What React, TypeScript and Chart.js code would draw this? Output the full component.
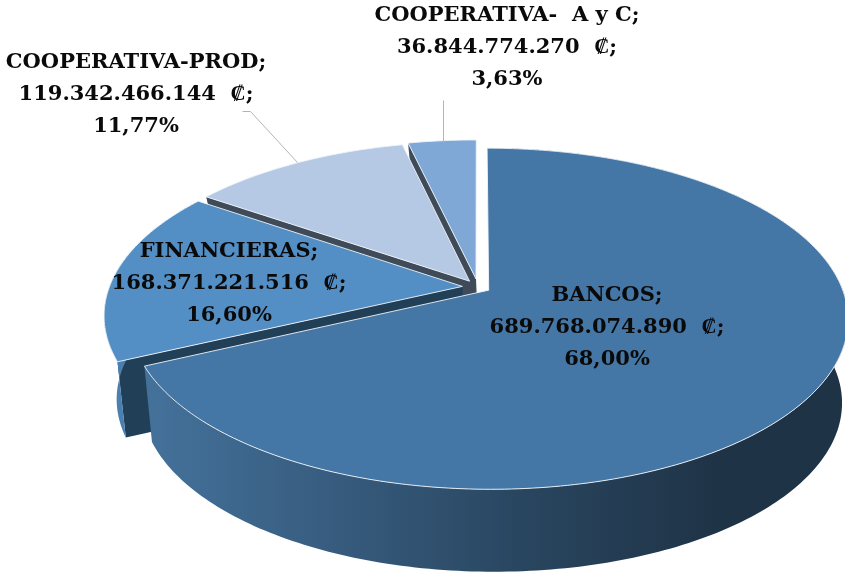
import React, { useEffect, useRef } from "react";
import { Chart, registerables } from "chart.js";

Chart.register(...registerables);

const categories = ["BANCOS", "FINANCIERAS", "COOPERATIVA-PROD", "COOPERATIVA-  A y C"];
const amounts = [689768074890, 168371221516, 119342466144, 36844774270];
const amountLabels = ["689.768.074.890", "168.371.221.516", "119.342.466.144", "36.844.774.270"];
const percentLabels = ["68,00%", "16,60%", "11,77%", "3,63%"];

const topColors = ["#4577a6", "#538ec4", "#b5c9e4", "#7fa8d6"];
const faceColors = ["#223f58", "#223f58", "#3f4b59", "#3f4b59"];
const explode = [10, 12.5, 12, 14];
const labelCentres: [number, number][] = [[607, 296], [229, 252], [136, 63], [507, 16]];
const leaders: [number, number][][] = [
  [[242, 111], [250, 111], [297, 162]],
  [[443, 100], [443, 142]],
];

type Plane = { ox: number; oy: number; a: number; b: number; p: number };
const topPlane: Plane = { ox: 478, oy: 287, a: 353, b: 164.7, p: 0.167 };
const basePlane: Plane = { ox: 481, oy: 363, a: 341, b: 161, p: 0.21 };

const project = (u: number, v: number, pl: Plane): [number, number] => {
  const d = 1 - pl.p * v;
  return [pl.ox + (pl.a * u) / d, pl.oy + (pl.b * v) / d];
};

const pie3d = {
  id: "pie3d",
  beforeDatasetsDraw(chart: any) {
    const ctx: CanvasRenderingContext2D = chart.ctx;
    const arcs = chart.getDatasetMeta(0).data;
    const order = [3, 2, 1, 0];
    for (const i of order) {
      const arc = arcs[i];
      const R = arc.outerRadius;
      const mid = (arc.startAngle + arc.endAngle) / 2;
      const off = arc.options.offset || 0;
      const cu = (off * Math.cos(mid)) / R;
      const cv = (off * Math.sin(mid)) / R;
      const steps = Math.max(8, Math.ceil((arc.endAngle - arc.startAngle) * 60));
      const rim: [number, number][] = [];
      for (let s = 0; s <= steps; s++) {
        const t = arc.startAngle + ((arc.endAngle - arc.startAngle) * s) / steps;
        rim.push([cu + Math.cos(t), cv + Math.sin(t)]);
      }
      const poly = (pts: [number, number][]) => {
        ctx.beginPath();
        pts.forEach((q, n) => (n ? ctx.lineTo(q[0], q[1]) : ctx.moveTo(q[0], q[1])));
        ctx.closePath();
      };
      // radial face turned to the viewer
      if (i > 0) {
        const e = rim[0];
        ctx.fillStyle = faceColors[i];
        poly([
          project(cu, cv, topPlane),
          project(e[0], e[1], topPlane),
          project(e[0], e[1], basePlane),
          project(cu, cv, basePlane),
        ]);
        ctx.fill();
      }
      // outer wall, only the two front slices show one
      if (i < 2) {
        let wall: any = "#4a7fb0";
        if (i === 0) {
          wall = ctx.createLinearGradient(150, 0, 720, 0);
          wall.addColorStop(0, "#44719a");
          wall.addColorStop(0.35, "#365a7c");
          wall.addColorStop(0.65, "#294660");
          wall.addColorStop(1, "#1f3346");
        }
        ctx.fillStyle = wall;
        poly([
          ...rim.map((q) => project(q[0], q[1], topPlane)),
          ...rim.slice().reverse().map((q) => project(q[0], q[1], basePlane)),
        ]);
        ctx.fill();
      }
      // top face
      poly([project(cu, cv, topPlane), ...rim.map((q) => project(q[0], q[1], topPlane))]);
      ctx.fillStyle = arc.options.backgroundColor;
      ctx.fill();
      ctx.strokeStyle = "rgba(240,245,250,0.9)";
      ctx.lineWidth = 1;
      ctx.lineJoin = "round";
      ctx.stroke();
    }
    return false;
  },
  afterDraw(chart: any) {
    const ctx: CanvasRenderingContext2D = chart.ctx;
    ctx.save();
    ctx.strokeStyle = "#b4b4b4";
    ctx.lineWidth = 1;
    for (const line of leaders) {
      ctx.beginPath();
      line.forEach((q, n) => (n ? ctx.lineTo(q[0] + 0.5, q[1] + 0.5) : ctx.moveTo(q[0] + 0.5, q[1] + 0.5)));
      ctx.stroke();
    }
    ctx.fillStyle = "#0a0a0a";
    ctx.font = "bold 21px 'DejaVu Serif'";
    ctx.textAlign = "center";
    ctx.textBaseline = "middle";
    categories.forEach((name, i) => {
      const [x, y] = labelCentres[i];
      ctx.fillText(name + ";", x, y);
      ctx.fillText(amountLabels[i] + "  \u20A1;", x, y + 32);
      ctx.fillText(percentLabels[i], x, y + 64);
    });
    ctx.restore();
  },
};

export default function App() {
  const ref = useRef<HTMLCanvasElement>(null);
  useEffect(() => {
    document.body.style.margin = "0";
    const chart = new Chart(ref.current as HTMLCanvasElement, {
      type: "pie",
      data: {
        labels: categories,
        datasets: [
          {
            data: amounts,
            backgroundColor: topColors,
            borderWidth: 0,
            offset: explode,
          },
        ],
      },
      options: {
        animation: false,
        responsive: false,
        events: [],
        rotation: 0,
        plugins: { legend: { display: false }, tooltip: { enabled: false } },
      },
      plugins: [pie3d as any],
    });
    return () => chart.destroy();
  }, []);
  return <canvas ref={ref} width={845} height={575} style={{ display: "block" }} />;
}
